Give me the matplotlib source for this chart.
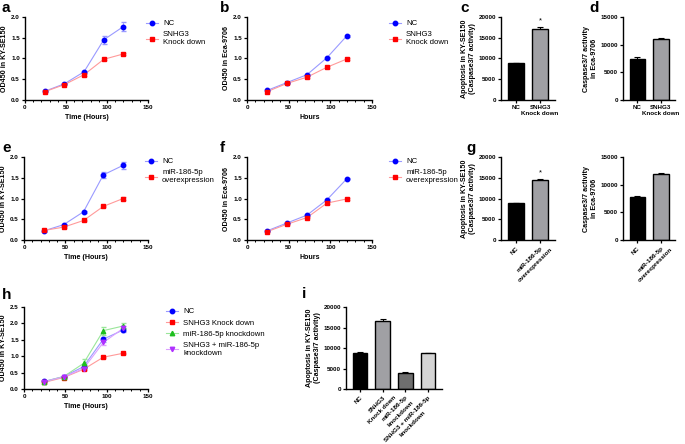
import matplotlib
matplotlib.use("Agg")
import matplotlib.pyplot as plt
import numpy as np
from matplotlib.font_manager import FontProperties
from matplotlib.transforms import ScaledTranslation

FAMILY = ['Liberation Sans', 'DejaVu Sans']
plt.rcParams['font.family'] = FAMILY

W, H = 685, 444

hours = [24, 48, 72, 96, 120]

# panel a
a_nc = [0.21, 0.39, 0.68, 1.45, 1.77]
a_nc_err = [0.01, 0.01, 0.03, 0.10, 0.10]
a_kd = [0.20, 0.37, 0.61, 0.98, 1.11]
a_kd_err = [0.01, 0.01, 0.02, 0.02, 0.02]
# panel b
b_nc = [0.23, 0.42, 0.61, 1.02, 1.55]
b_nc_err = [0.01, 0.01, 0.02, 0.02, 0.02]
b_kd = [0.20, 0.40, 0.55, 0.79, 0.99]
b_kd_err = [0.01, 0.01, 0.02, 0.02, 0.02]
# panel e
e_nc = [0.22, 0.37, 0.68, 1.57, 1.80]
e_nc_err = [0.02, 0.02, 0.02, 0.07, 0.08]
e_oe = [0.23, 0.31, 0.47, 0.81, 1.00]
e_oe_err = [0.01, 0.01, 0.02, 0.02, 0.03]
# panel f
f_nc = [0.22, 0.41, 0.60, 0.97, 1.48]
f_nc_err = [0.01, 0.01, 0.02, 0.02, 0.02]
f_oe = [0.20, 0.38, 0.54, 0.89, 0.99]
f_oe_err = [0.01, 0.01, 0.02, 0.02, 0.02]
# panel h
h_nc = [0.23, 0.38, 0.68, 1.52, 1.80]
h_nc_err = [0.02, 0.02, 0.05, 0.08, 0.07]
h_kd = [0.20, 0.35, 0.60, 0.97, 1.09]
h_kd_err = [0.01, 0.01, 0.02, 0.02, 0.02]
h_mir = [0.22, 0.38, 0.78, 1.78, 1.92]
h_mir_err = [0.02, 0.02, 0.12, 0.12, 0.08]
h_combo = [0.22, 0.37, 0.62, 1.42, 1.85]
h_combo_err = [0.02, 0.02, 0.05, 0.07, 0.08]

# bar panels
c_labels = ["NC", "SNHG3\nKnock down"]
c_vals = [8800, 17200]
c_err = [150, 300]
d_vals = [7400, 11100]
d_err = [300, 150]
g_labels = ["NC", "miR-186-5p\noverexpression"]
g_vals = [8800, 14400]
g_err = [200, 400]
g2_vals = [7700, 11900]
g2_err = [300, 200]
i_labels = ["NC", "SNHG3\nKnock down", "miR-186-5p\nknockdown",
            "SNHG3 + miR-186-5p\nknockdown"]
i_vals = [8800, 16500, 4000, 8700]
i_err = [300, 500, 100, 150]

BLUE, LBLUE = "#0000ff", "#9a9aff"
RED, LRED = "#ff0000", "#ff9a9a"
GREEN, LGREEN = "#1fbf1f", "#9ae69a"
PURPLE, LPURPLE = "#b030ff", "#dca0ff"

fig = plt.figure(figsize=(W / 100, H / 100), dpi=100)
renderer = fig.canvas.get_renderer()

TS = 4.5
LS = 5.1
LEG = 5.6


def ax_px(l, t, r, b):
    return fig.add_axes([l / W, 1 - b / H, (r - l) / W, (b - t) / H])


def style(ax):
    for s in ["top", "right"]:
        ax.spines[s].set_visible(False)
    for s in ["left", "bottom"]:
        ax.spines[s].set_linewidth(1.0)
    ax.tick_params(labelsize=TS, width=0.9, length=2.5, pad=1.2)
    for lab in ax.get_xticklabels() + ax.get_yticklabels():
        lab.set_fontweight("bold")


def rot_labels(ax, labels, fs=TS, off=4.2):
    # GraphPad style: first line ends at the tick, next lines centred under it
    ax.set_xticklabels([])
    prop = FontProperties(family=FAMILY, weight="bold", size=fs)
    c = s = np.cos(np.radians(45))
    base = ax.get_xaxis_transform()
    for i, lab in enumerate(labels):
        lines = lab.split("\n")
        w1 = renderer.get_text_width_height_descent(lines[0], prop, ismath=False)[0]
        w1 = w1 * 72 / fig.dpi
        tr = base + ScaledTranslation(0, -off / 72, fig.dpi_scale_trans)
        ax.text(i, 0, lines[0], transform=tr, rotation=45,
                rotation_mode="anchor", ha="right", va="top",
                fontsize=fs, fontweight="bold")
        for k, ln in enumerate(lines[1:], 1):
            lh = fs * 1.2 * k
            dx = -c * w1 / 2 + s * lh
            dy = -off - s * w1 / 2 - c * lh
            tr = base + ScaledTranslation(dx / 72, dy / 72, fig.dpi_scale_trans)
            ax.text(i, 0, ln, transform=tr, rotation=45,
                    rotation_mode="anchor", ha="center", va="top",
                    fontsize=fs, fontweight="bold")


def line_panel(ax, series, ymax, ystep, xlabel, ylabel):
    for y, e, c, lc, m in series:
        ax.plot(hours, y, color=lc, lw=0.8, zorder=2)
        ax.errorbar(hours, y, yerr=e, fmt=m, color=c, ms=3.2, elinewidth=0.6,
                    capsize=1.8, ecolor=lc, zorder=3)
    ax.set_xlim(0, 150)
    ax.set_ylim(0, ymax)
    ax.set_xticks([0, 50, 100, 150])
    ax.set_xticks(np.arange(0, 151, 10), minor=True)
    ax.set_yticks(np.arange(0, ymax + 0.01, ystep))
    ax.yaxis.set_major_formatter(matplotlib.ticker.FormatStrFormatter("%.1f"))
    style(ax)
    ax.tick_params(which="minor", length=1.6, width=0.7)
    ax.set_xlabel(xlabel, fontsize=LS, fontweight="bold", labelpad=3)
    ax.set_ylabel(ylabel, fontsize=LS, fontweight="bold", labelpad=2)


def bar_panel(ax, vals, errs, labels, colors, ymax, ystep, ylabel,
              rot=False, star=None, width=0.68):
    x = np.arange(len(vals))
    ax.bar(x, vals, width=width, color=colors, edgecolor="black", lw=1.0,
           zorder=2)
    ax.errorbar(x, vals, yerr=[np.zeros(len(errs)), errs], fmt="none",
                ecolor="black", elinewidth=0.8, capsize=2.5, capthick=0.8,
                zorder=1)
    ax.set_xlim(-0.62, len(vals) - 0.38)
    ax.set_ylim(0, ymax)
    ax.set_yticks(np.arange(0, ymax + 1, ystep))
    ax.set_xticks(x)
    ax.set_xticklabels(labels, multialignment="center")
    style(ax)
    if rot:
        rot_labels(ax, labels)
    ax.set_ylabel(ylabel, fontsize=LS, fontweight="bold", labelpad=2,
                  multialignment="center")
    if star is not None:
        ax.text(star, vals[star] + errs[star] + ymax * 0.03, "*",
                ha="center", va="bottom", fontsize=5.5)


def legend_h(ax, handles, labels, x, y):
    ax.legend(handles, labels, loc="upper left",
              bbox_to_anchor=(x / W, 1 - y / H),
              bbox_transform=fig.transFigure, frameon=False, fontsize=LEG,
              handlelength=1.6, handletextpad=0.6, labelspacing=0.5,
              borderaxespad=0, borderpad=0)


def letter(x, y, s):
    fig.text(x / W, 1 - y / H, s, fontsize=11, fontweight="bold",
             ha="left", va="center")


def handle(lc, m, c):
    return plt.Line2D([], [], color=lc, marker=m, mfc=c, mec=c, ms=3.2, lw=0.8)


two = [handle(LBLUE, "o", BLUE), handle(LRED, "s", RED)]

# a
ax = ax_px(25, 17, 148, 100)
line_panel(ax, [(a_nc, a_nc_err, BLUE, LBLUE, "o"),
                (a_kd, a_kd_err, RED, LRED, "s")],
           2.0, 0.5, "Time (Hours)", "OD450 in KY-SE150")
legend_h(ax, two, ["NC", "SNHG3\nKnock down"], 146, 20)
letter(2, 8, "a")

# b
ax = ax_px(247, 17, 372, 100)
line_panel(ax, [(b_nc, b_nc_err, BLUE, LBLUE, "o"),
                (b_kd, b_kd_err, RED, LRED, "s")],
           2.0, 0.5, "Hours", "OD450 in Eca-9706")
legend_h(ax, two, ["NC", "SNHG3\nKnock down"], 389, 20)
letter(220, 8, "b")

# c
ax = ax_px(501, 17, 555, 100)
bar_panel(ax, c_vals, c_err, c_labels, ["black", "#a0a0a4"], 20000, 5000,
          "Apoptosis in KY-SE150\n(Caspase3/7 activity)", star=1)
letter(460, 8, "c")

# d
ax = ax_px(623, 17, 675, 100)
bar_panel(ax, d_vals, d_err, c_labels, ["black", "#a0a0a4"], 15000, 5000,
          "Caspase3/7 activity\nin Eca-9706")
letter(589, 8, "d")

# e
ax = ax_px(24, 157, 148, 240)
line_panel(ax, [(e_nc, e_nc_err, BLUE, LBLUE, "o"),
                (e_oe, e_oe_err, RED, LRED, "s")],
           2.0, 0.5, "Time (Hours)", "OD450 in KY-SE150")
legend_h(ax, two, ["NC", "miR-186-5p\noverexpression"], 145, 158)
letter(2, 148, "e")

# f
ax = ax_px(247, 157, 372, 240)
line_panel(ax, [(f_nc, f_nc_err, BLUE, LBLUE, "o"),
                (f_oe, f_oe_err, RED, LRED, "s")],
           2.0, 0.5, "Hours", "OD450 in Eca-9706")
legend_h(ax, two, ["NC", "miR-186-5p\noverexpression"], 389, 158)
letter(220, 148, "f")

# g
ax = ax_px(501, 157, 555, 240)
bar_panel(ax, g_vals, g_err, g_labels, ["black", "#a0a0a4"], 20000, 5000,
          "Apoptosis in KY-SE150\n(Caspase3/7 activity)", rot=True, star=1)
letter(466, 148, "g")

ax = ax_px(623, 157, 675, 240)
bar_panel(ax, g2_vals, g2_err, g_labels, ["black", "#a0a0a4"], 15000, 5000,
          "Caspase3/7 activity\nin Eca-9706", rot=True)

# h
ax = ax_px(24, 307, 148, 389)
line_panel(ax, [(h_nc, h_nc_err, BLUE, LBLUE, "o"),
                (h_kd, h_kd_err, RED, LRED, "s"),
                (h_mir, h_mir_err, GREEN, LGREEN, "^"),
                (h_combo, h_combo_err, PURPLE, LPURPLE, "v")],
           2.5, 0.5, "Time (Hours)", "OD450 in KY-SE150")
four = two + [handle(LGREEN, "^", GREEN), handle(LPURPLE, "v", PURPLE)]
legend_h(ax, four, ["NC", "SNHG3 Knock down", "miR-186-5p knockdown",
                    "SNHG3 + miR-186-5p\nknockdown"], 166, 308)
letter(2, 295, "h")

# i
ax = ax_px(346, 307, 442, 389)
bar_panel(ax, i_vals, i_err, i_labels,
          ["black", "#a0a0a4", "#6e6e6e", "#d4d4d4"], 20000, 5000,
          "Apoptosis in KY-SE150\n(Caspase3/7 activity)", rot=True, width=0.65)
letter(302, 294, "i")

fig.savefig("out.png", dpi=100)
